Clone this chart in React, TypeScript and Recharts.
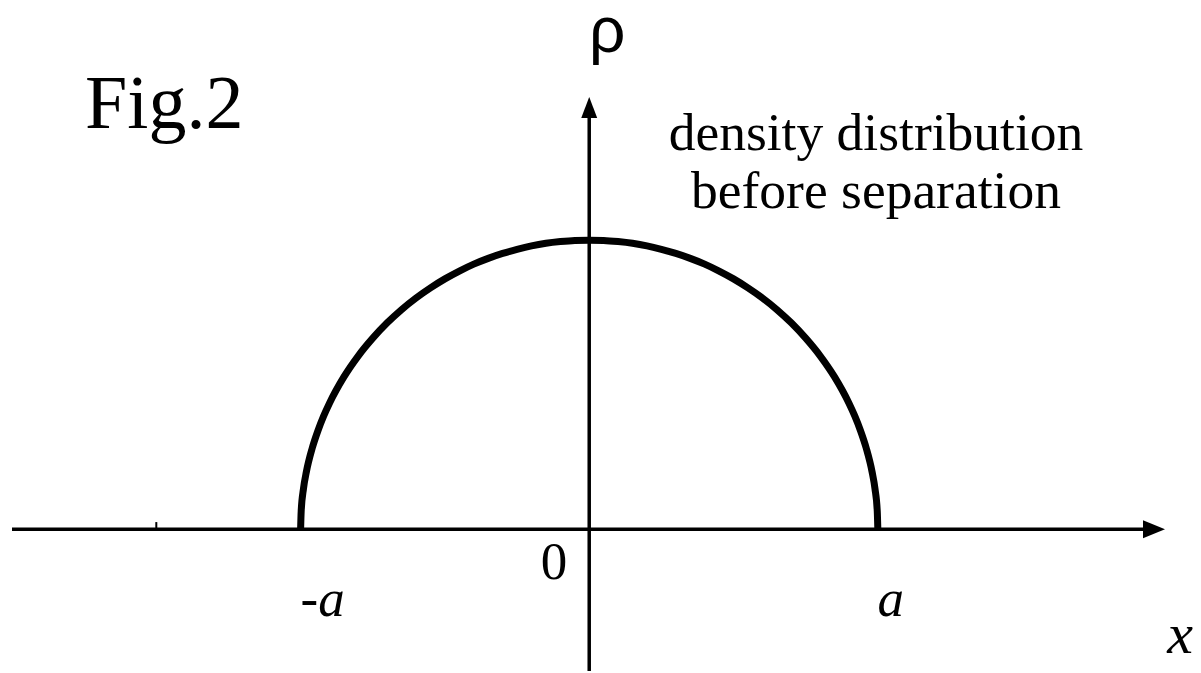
import React from "react";
import { LineChart, Line, XAxis, YAxis, ReferenceLine, ReferenceDot } from "recharts";

// positions along x, in units of a
const xPositions = [
  -1, -0.998, -0.99, -0.98, -0.96, -0.94, -0.92, -0.9, -0.85, -0.8, -0.75, -0.7, -0.65,
  -0.6, -0.55, -0.5, -0.45, -0.4, -0.35, -0.3, -0.25, -0.2, -0.15, -0.1, -0.05, 0,
  0.05, 0.1, 0.15, 0.2, 0.25, 0.3, 0.35, 0.4, 0.45, 0.5, 0.55, 0.6, 0.65, 0.7, 0.75,
  0.8, 0.85, 0.9, 0.92, 0.94, 0.96, 0.98, 0.99, 0.998, 1,
];
// density (peak = 1)
const rhoValues = [
  0, 0.063, 0.141, 0.199, 0.28, 0.341, 0.392, 0.436, 0.527, 0.6, 0.661, 0.714, 0.76,
  0.8, 0.835, 0.866, 0.893, 0.917, 0.937, 0.954, 0.968, 0.98, 0.989, 0.995, 0.999, 1,
  0.999, 0.995, 0.989, 0.98, 0.968, 0.954, 0.937, 0.917, 0.893, 0.866, 0.835, 0.8, 0.76, 0.714, 0.661,
  0.6, 0.527, 0.436, 0.392, 0.341, 0.28, 0.199, 0.141, 0.063, 0,
];
const tickValues = [-1, 0, 1];
const tickLabels = ["-a", "0", "a"];
const minorTick = -1.5;
const titleText = "Fig.2";
const noteLines = ["density distribution", "before separation"];

const data = xPositions.map((x, i) => ({ x, rho: rhoValues[i] }));

const SERIF = "'Liberation Serif', 'Times New Roman', serif";

const XAxisArrow = (props: any) => {
  const { x1, x2, y1 } = props;
  const right = Math.max(x1, x2);
  const left = Math.min(x1, x2);
  return (
    <g>
      <line x1={left} y1={y1} x2={right - 18} y2={y1} stroke="#000" strokeWidth={3.5} />
      <polygon points={`${right},${y1} ${right - 22},${y1 - 9} ${right - 22},${y1 + 9}`} fill="#000" />
      <text x={right + 15} y={y1 + 124} fontFamily={SERIF} fontStyle="italic" fontSize={58} textAnchor="middle" fill="#000">
        x
      </text>
    </g>
  );
};

const YAxisArrow = (props: any) => {
  const { x1, y1, y2 } = props;
  const top = Math.min(y1, y2);
  const bottom = Math.max(y1, y2);
  return (
    <g>
      <line x1={x1} y1={top + 18} x2={x1} y2={bottom} stroke="#000" strokeWidth={3.5} />
      <polygon points={`${x1},${top} ${x1 - 8},${top + 21} ${x1 + 8},${top + 21}`} fill="#000" />
      <text x={x1 + 18} y={top - 45} fontFamily="'Liberation Sans', Arial, sans-serif" fontSize={64} textAnchor="middle" fill="#000">
        ρ
      </text>
    </g>
  );
};

const labelOffsets: Record<string, { dx: number; dy: number; anchor: string; italic: boolean }> = {
  "-a": { dx: 22, dy: 87, anchor: "middle", italic: true },
  "0": { dx: -22, dy: 50, anchor: "end", italic: false },
  a: { dx: 13, dy: 87, anchor: "middle", italic: true },
};

const TickText = (label: string) => (props: any) => {
  const o = labelOffsets[label];
  return (
    <text
      x={props.cx + o.dx}
      y={props.cy + o.dy}
      fontFamily={SERIF}
      fontStyle={o.italic ? "italic" : "normal"}
      fontSize={53}
      textAnchor={o.anchor}
      fill="#000"
    >
      {label}
    </text>
  );
};

export default function App() {
  return (
    <div style={{ position: "absolute", left: 0, top: 0, width: 1201, height: 673, background: "#fff" }}>
      <LineChart width={1201} height={673} data={data} margin={{ top: 97, right: 36, bottom: 2, left: 12 }}>
        <XAxis dataKey="x" type="number" domain={[-2, 1.995]} hide allowDataOverflow />
        <YAxis type="number" domain={[-0.49, 1.495]} hide allowDataOverflow />
        <ReferenceLine y={0} shape={XAxisArrow} ifOverflow="visible" />
        <ReferenceLine x={0} shape={YAxisArrow} ifOverflow="visible" />
        <ReferenceLine
          segment={[
            { x: minorTick, y: 0 },
            { x: minorTick, y: 0.025 },
          ]}
          stroke="#000"
          strokeWidth={2}
        />
        <Line
          type="monotone"
          dataKey="rho"
          stroke="#000"
          strokeWidth={7}
          dot={false}
          activeDot={false}
          isAnimationActive={false}
        />
        {tickValues.map((v, i) => (
          <ReferenceDot key={v} x={v} y={0} r={0} shape={TickText(tickLabels[i])} ifOverflow="visible" />
        ))}
      </LineChart>
      <svg width={1201} height={673} style={{ position: "absolute", left: 0, top: 0, pointerEvents: "none" }}>
        <text x={85} y={128} fontFamily={SERIF} fontSize={76} fill="#000">
          {titleText}
        </text>
        {noteLines.map((line, i) => (
          <text key={line} x={876} y={150 + i * 58} fontFamily={SERIF} fontSize={53.5} textAnchor="middle" fill="#000">
            {line}
          </text>
        ))}
      </svg>
    </div>
  );
}
